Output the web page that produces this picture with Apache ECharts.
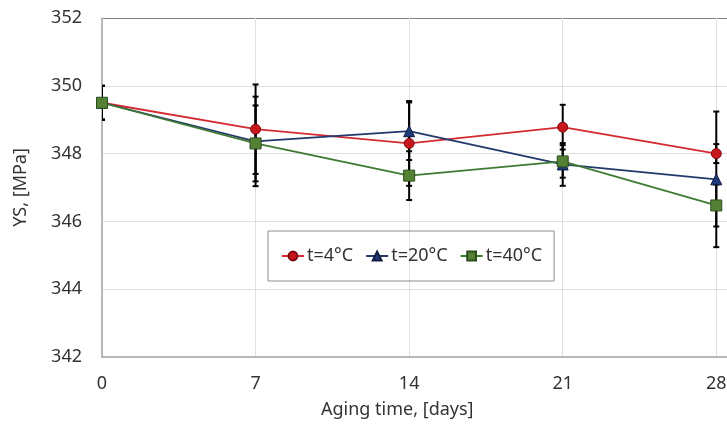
<!DOCTYPE html>
<html>
<head>
<meta charset="utf-8">
<script src="https://cdn.jsdelivr.net/npm/echarts@6/dist/echarts.min.js"></script>
<style>html,body{margin:0;padding:0;background:#fff;overflow:hidden}#c{width:727px;height:429px}</style>
</head>
<body>
<div id="c"></div>
<script>
const days = [0, 7, 14, 21, 28];
const seriesNames = ['t=4°C', 't=20°C', 't=40°C'];
const ys4 = [349.5, 348.72, 348.30, 348.78, 348.00];
const ys20 = [349.5, 348.36, 348.66, 347.68, 347.24];
const ys40 = [349.5, 348.30, 347.35, 347.77, 346.47];
const err4 = [0.5, 1.32, 1.25, 0.66, 0.28];
const err20 = [0.5, 1.32, 0.85, 0.63, 2.0];
const err40 = [0.5, 1.12, 0.72, 0.48, 0.62];
const yTicks = [342, 344, 346, 348, 350, 352];

const FONT = 'Noto Sans';
const chart = echarts.init(document.getElementById('c'));

function pairs(vals) { return days.map((d, i) => [d, vals[i]]); }
function errData(vals, errs) { return days.map((d, i) => [d, vals[i] - errs[i], vals[i] + errs[i]]); }

function errSeries(vals, errs) {
  return {
    type: 'custom',
    z: 1,
    clip: true,
    silent: true,
    data: errData(vals, errs),
    renderItem: function (params, api) {
      const x = api.value(0);
      const lo = api.coord([x, api.value(1)]);
      const hi = api.coord([x, api.value(2)]);
      const w = 3;
      const style = { stroke: '#000', lineWidth: 2 };
      return {
        type: 'group',
        children: [
          { type: 'line', shape: { x1: lo[0], y1: lo[1], x2: hi[0], y2: hi[1] }, style: style },
          { type: 'line', shape: { x1: lo[0] - w, y1: lo[1], x2: lo[0] + w, y2: lo[1] }, style: style },
          { type: 'line', shape: { x1: hi[0] - w, y1: hi[1], x2: hi[0] + w, y2: hi[1] }, style: style }
        ]
      };
    }
  };
}

function lineSeries(name, vals, lineColor, fill, border, symbol, size) {
  return {
    name: name,
    type: 'line',
    z: 3,
    data: pairs(vals),
    symbol: symbol,
    symbolSize: size,
    clip: false,
    lineStyle: { color: lineColor, width: 1.8 },
    itemStyle: { color: fill, borderColor: border, borderWidth: 1 }
  };
}

chart.setOption({
  animation: false,
  textStyle: { fontFamily: FONT },
  grid: { left: 102, width: 645, top: 18, bottom: 72, outerBoundsMode: 'none', containLabel: false },
  legend: {
    left: 268,
    top: 231,
    padding: [16, 12, 16, 13],
    borderColor: '#8c8c8c',
    borderWidth: 1,
    itemWidth: 22,
    itemHeight: 11,
    itemGap: 12,
    textStyle: { fontFamily: FONT, fontSize: 18, color: '#333', padding: [0, 0, 0, -2] },
    data: seriesNames
  },
  xAxis: {
    type: 'value',
    min: 0,
    max: 29.4,
    interval: 7,
    axisLine: { show: true, lineStyle: { color: '#a6a6a6', width: 1.5 } },
    axisTick: { show: false },
    axisLabel: { fontFamily: FONT, fontSize: 18, color: '#333', margin: 18, showMaxLabel: false },
    splitLine: { show: true, lineStyle: { color: '#e0e0e0', width: 1 } }
  },
  yAxis: {
    type: 'value',
    min: yTicks[0],
    max: yTicks[yTicks.length - 1],
    interval: 2,
    name: 'YS, [MPa]',
    nameLocation: 'middle',
    nameGap: 72,
    nameTextStyle: { fontFamily: FONT, fontSize: 18, color: '#333' },
    axisLine: { show: true, lineStyle: { color: '#a6a6a6', width: 1.5 } },
    axisTick: { show: false },
    axisLabel: { fontFamily: FONT, fontSize: 18, color: '#333', margin: 20 },
    splitLine: { show: true, lineStyle: { color: ['#e0e0e0', '#e0e0e0', '#e0e0e0', '#e0e0e0', '#e0e0e0', '#808080'], width: 1 } }
  },
  graphic: [{
    type: 'text',
    left: 321,
    top: 401,
    style: { text: 'Aging time, [days]', fontFamily: FONT, fontSize: 18, fill: '#333' }
  }],
  series: [
    errSeries(ys4, err4),
    errSeries(ys20, err20),
    errSeries(ys40, err40),
    lineSeries(seriesNames[0], ys4, '#d42a2f', '#c8161d', '#7a0a0e', 'circle', 10),
    lineSeries(seriesNames[1], ys20, '#23396b', '#1f3a78', '#101d40', 'triangle', 11),
    lineSeries(seriesNames[2], ys40, '#3f7a33', '#548235', '#2e4d1f', 'rect', 11)
  ]
});
</script>
</body>
</html>
